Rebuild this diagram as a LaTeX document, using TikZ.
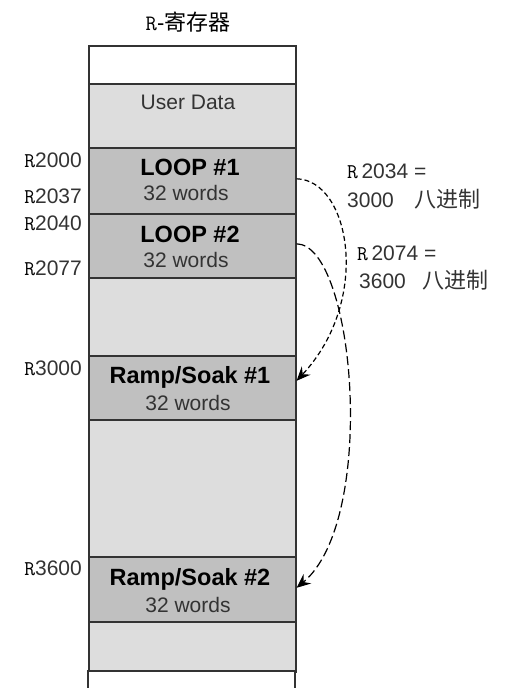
\documentclass[tikz,border=0pt]{standalone}
\usepackage{fontspec}
\setmainfont{Liberation Sans}
\newfontfamily\cjk{Noto Sans CJK SC}
\newfontfamily\rmono{Latin Modern Mono}
\newcommand\regR{{\rmono\color{black}R}}
\usetikzlibrary{arrows.meta}
\definecolor{lg}{HTML}{DDDDDD}
\definecolor{mg}{HTML}{C0C0C0}
\definecolor{tx}{HTML}{333333}
\definecolor{bd}{HTML}{333333}
\begin{document}
\begin{tikzpicture}[x=1pt,y=-1pt,
  cell/.style={draw=bd,line width=1.6pt,minimum width=207pt,inner sep=0pt,anchor=north west},
  light/.style={cell,fill=lg},
  mid/.style={cell,fill=mg},
  addr/.style={anchor=base east,inner sep=0pt,font=\fontsize{21}{24}\selectfont,text=tx},
  note/.style={anchor=base west,inner sep=0pt,font=\fontsize{21}{24}\selectfont,text=tx},
  ptr/.style={line width=1.2pt,-{Stealth[length=14pt,width=12pt,inset=5pt]}},
  bigt/.style={anchor=base,inner sep=0pt,font=\fontsize{23.5}{26}\selectfont\bfseries},
  smallt/.style={anchor=base,inner sep=0pt,font=\fontsize{21}{24}\selectfont,text=tx}]
\useasboundingbox (0,0) rectangle (510,688);
\node[anchor=base,inner sep=0pt] (title) at (188,30) {\fontsize{22}{24}\selectfont\regR-{\cjk 寄存器}};
\node[cell,fill=white,minimum height=38pt] (top) at (88,45) {};
\node[light,minimum height=64pt] (user) at (88,83) {};
\node[smallt] (usert) at (188,109) {User Data};
\node[mid,minimum height=66pt] (loop1) at (88,147) {};
\node[bigt] (l1a) at (190,175) {LOOP \#1};
\node[smallt] (l1b) at (186,200) {32 words};
\node[mid,minimum height=64pt] (loop2) at (88,213) {};
\node[bigt] (l2a) at (190,242) {LOOP \#2};
\node[smallt] (l2b) at (186,267) {32 words};
\node[light,minimum height=78pt] (gap1) at (88,277) {};
\node[mid,minimum height=64pt] (rs1) at (88,355) {};
\node[bigt] (r1a) at (190,383) {Ramp/Soak \#1};
\node[smallt] (r1b) at (188,410) {32 words};
\node[light,minimum height=137pt] (gap2) at (88,419) {};
\node[mid,minimum height=65pt] (rs2) at (88,556) {};
\node[bigt] (r2a) at (190,585) {Ramp/Soak \#2};
\node[smallt] (r2b) at (188,612) {32 words};
\node[light,minimum height=50pt] (gap3) at (88,621) {};
\draw[draw=bd,line width=1.6pt,fill=white] (88,700) -- (88,671) -- (295,671) -- (295,700);
\node[addr] (a1) at (82,167) {\regR2000};
\node[addr] (a2) at (82,203) {\regR2037};
\node[addr] (a3) at (82,230) {\regR2040};
\node[addr] (a4) at (82,275) {\regR2077};
\node[addr] (a5) at (82,375) {\regR3000};
\node[addr] (a6) at (82,575) {\regR3600};
\node[note] (n1a) at (347,178) {\regR\,2034 =};
\node[note] (n1b) at (347,207) {3000\hspace{21pt}{\cjk\fontsize{22}{24}\selectfont 八进制}};
\node[note] (n2a) at (357,260) {\regR\,2074 =};
\node[note] (n2b) at (359,288) {3600\hspace{17pt}{\cjk\fontsize{22}{24}\selectfont 八进制}};
\draw[ptr,dash pattern=on 5pt off 3pt] ([yshift=2pt]loop1.east) .. controls (350,180) and (372,300) .. ([yshift=7pt]rs1.east);
\draw[ptr,dash pattern=on 9pt off 4pt] ([yshift=2pt]loop2.east) .. controls (355,245) and (378,520) .. ([yshift=1.5pt]rs2.east);
\end{tikzpicture}
\end{document}
